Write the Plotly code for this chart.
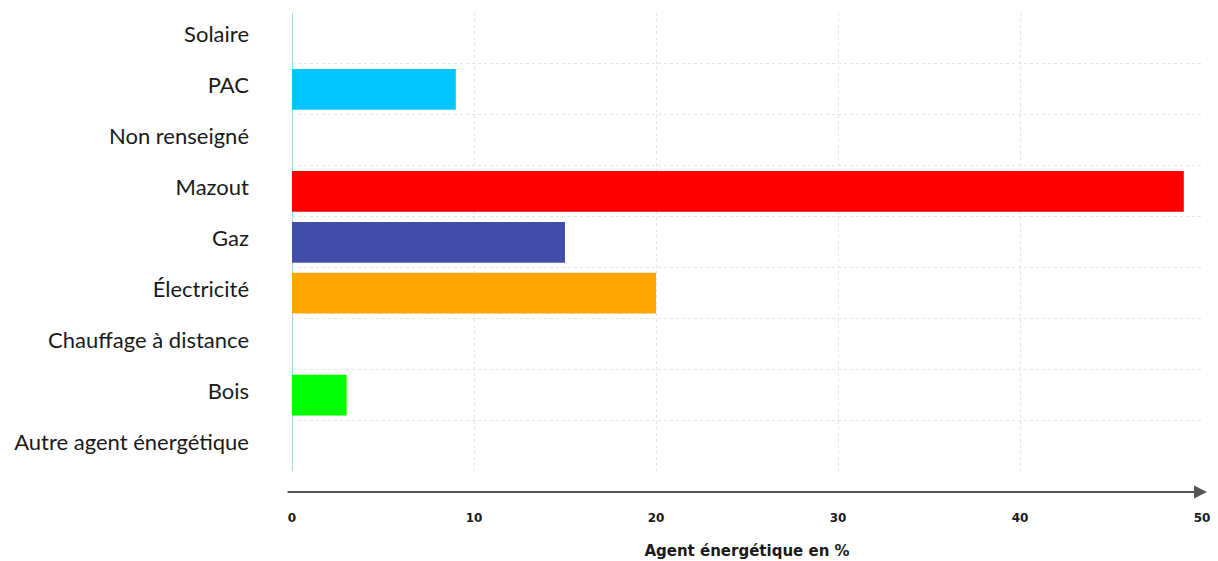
import plotly.graph_objects as go

# Energy sources, listed top to bottom
categories = [
    "Solaire",
    "PAC",
    "Non renseigné",
    "Mazout",
    "Gaz",
    "Électricité",
    "Chauffage à distance",
    "Bois",
    "Autre agent énergétique",
]
shares = [0, 9, 0, 49, 15, 20, 0, 3, 0]
colors = [
    "#ffd400",
    "#00c6ff",
    "#9e9e9e",
    "#ff0000",
    "#424fa8",
    "#ffa500",
    "#8a5a2b",
    "#00ff00",
    "#795548",
]
x_ticks = [0, 10, 20, 30, 40, 50]

positions = list(range(len(categories)))

fig = go.Figure(
    go.Bar(
        x=shares,
        y=positions,
        orientation="h",
        marker=dict(color=colors, line=dict(width=0)),
        width=0.8,
        hoverinfo="skip",
    )
)

fig.update_layout(
    width=1218,
    height=561,
    margin=dict(l=292, r=16, t=13, b=90),
    paper_bgcolor="white",
    plot_bgcolor="white",
    showlegend=False,
    font=dict(family="Lato", color="#1a1a1a"),
    xaxis=dict(
        range=[0, 50],
        tickvals=x_ticks,
        ticktext=[str(v) for v in x_ticks],
        showgrid=True,
        gridcolor="#e3e3e3",
        griddash="dot",
        gridwidth=1,
        zeroline=True,
        zerolinecolor="#9fd8f2",
        zerolinewidth=1,
        showline=False,
        ticks="",
        ticklabelstandoff=38,
        tickfont=dict(family="DejaVu Sans", size=12, color="#1a1a1a", weight="bold"),
        title=dict(
            text="Agent énergétique en %",
            font=dict(family="DejaVu Sans", size=15, color="#1a1a1a", weight="bold"),
            standoff=21,
        ),
        automargin=False,
        fixedrange=True,
    ),
    yaxis=dict(
        range=[8.49, -0.5],
        tickvals=positions,
        ticktext=categories,
        showgrid=False,
        zeroline=False,
        showline=False,
        ticks="",
        ticklabelstandoff=42,
        ticklabelshift=4,
        tickfont=dict(family="Lato", size=22, color="#1a1a1a"),
        minor=dict(
            tick0=0.5,
            dtick=1,
            showgrid=True,
            gridcolor="#e3e3e3",
            griddash="dot",
            gridwidth=1,
            ticks="",
        ),
        automargin=False,
        fixedrange=True,
    ),
)

# Horizontal axis drawn as an arrow beneath the plot area
fig.add_annotation(
    xref="paper",
    yref="paper",
    x=1.0055,
    y=-0.046,
    axref="pixel",
    ayref="pixel",
    ax=-921,
    ay=0,
    text="",
    showarrow=True,
    arrowhead=2,
    arrowsize=1.3,
    arrowwidth=2,
    arrowcolor="#555555",
)

fig.write_html("out.html")
